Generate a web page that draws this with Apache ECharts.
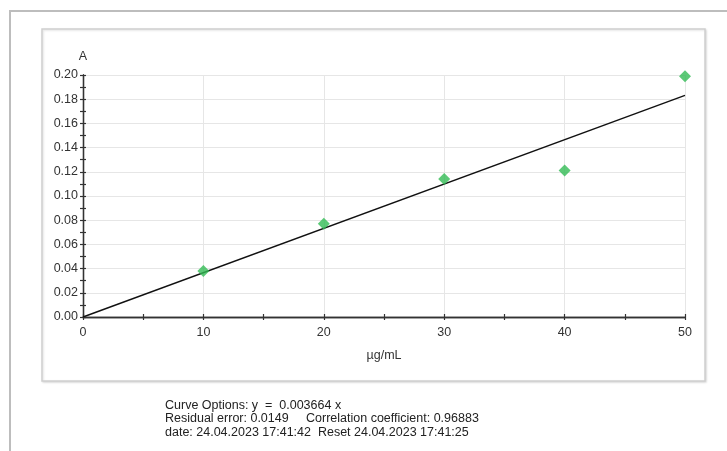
<!DOCTYPE html>
<html>
<head>
<meta charset="utf-8">
<script src="https://cdn.jsdelivr.net/npm/echarts@6/dist/echarts.min.js"></script>
<style>html,body{margin:0;padding:0;background:#fff;}#c{width:727px;height:451px;}</style>
</head>
<body>
<div id="c"></div>
<script>
// Data
var concX = [10, 20, 30, 40, 50];
var absY = [0.038, 0.077, 0.114, 0.121, 0.199];
var fitX = [0, 50];
var fitY = [0, 0.1832];
var xTicks = [0, 10, 20, 30, 40, 50];
var yTicks = [0.00, 0.02, 0.04, 0.06, 0.08, 0.10, 0.12, 0.14, 0.16, 0.18, 0.20];
var infoLines = [
  'Curve Options: y  =  0.003664 x',
  'Residual error: 0.0149     Correlation coefficient: 0.96883',
  'date: 24.04.2023 17:41:42  Reset 24.04.2023 17:41:25'
];

var font = 'Liberation Sans, Arial, sans-serif';
var fs = 12.5;
var chart = echarts.init(document.getElementById('c'), null, {renderer: 'canvas'});

function xAxisDef(primary) {
  return {
    type: 'value', min: xTicks[0], max: xTicks[xTicks.length - 1], interval: 10,
    position: 'bottom',
    name: primary ? 'µg/mL' : '', nameLocation: 'middle', nameGap: 32,
    nameTextStyle: {color: '#333', fontFamily: font, fontSize: fs},
    axisLine: {show: true, onZero: false, lineStyle: {color: '#333', width: 1.3}},
    axisTick: {show: true, inside: !primary, length: 3, lineStyle: {color: '#333', width: 1.2}},
    minorTick: {show: true, splitNumber: 2, length: 3, lineStyle: {color: '#333', width: 1.2}},
    axisLabel: {show: primary, color: '#333', fontFamily: font, fontSize: fs, margin: 9},
    splitLine: {show: primary, lineStyle: {color: '#e6e6e6', width: 1}},
    minorSplitLine: {show: false}
  };
}
function yAxisDef(primary) {
  return {
    type: 'value', min: yTicks[0], max: yTicks[yTicks.length - 1], interval: 0.02,
    position: 'left',
    name: primary ? 'A' : '', nameLocation: 'end', nameGap: 12,
    nameTextStyle: {color: '#333', fontFamily: font, fontSize: fs, align: 'center'},
    axisLine: {show: true, onZero: false, lineStyle: {color: '#333', width: 1.3}},
    axisTick: {show: true, inside: !primary, length: 3, lineStyle: {color: '#333', width: 1.2}},
    minorTick: {show: true, splitNumber: 2, length: 3, lineStyle: {color: '#333', width: 1.2}},
    axisLabel: {show: primary, color: '#333', fontFamily: font, fontSize: fs, margin: 5,
      formatter: function (v) { return v.toFixed(2); }},
    splitLine: {show: primary, lineStyle: {color: '#e6e6e6', width: 1}},
    minorSplitLine: {show: false}
  };
}

var graphics = [
  {type: 'rect', shape: {x: 10, y: 11, width: 800, height: 500}, style: {fill: 'none', stroke: '#bdbdbd', lineWidth: 2}, z: -10},
  {type: 'rect', shape: {x: 42, y: 29, width: 663, height: 352}, style: {fill: '#fff', stroke: '#cfcfcf', lineWidth: 1.5, shadowColor: 'rgba(0,0,0,0.12)', shadowBlur: 2, shadowOffsetX: 1, shadowOffsetY: 1}, z: -9}
];
infoLines.forEach(function (t, i) {
  graphics.push({type: 'text', left: 165, top: 399 + i * 13.5,
    style: {text: t, fill: '#222', font: fs + 'px ' + font}});
});

chart.setOption({
  animation: false,
  backgroundColor: '#fff',
  grid: {left: 83, right: 42, top: 75, bottom: 134, containLabel: false},
  xAxis: [xAxisDef(true), xAxisDef(false)],
  yAxis: [yAxisDef(true), yAxisDef(false)],
  graphic: graphics,
  series: [
    {type: 'line', xAxisIndex: 0, yAxisIndex: 0, showSymbol: false, symbol: 'none',
      data: fitX.map(function (x, i) { return [x, fitY[i]]; }),
      lineStyle: {color: '#111', width: 1.4}, z: 2},
    {type: 'scatter', xAxisIndex: 0, yAxisIndex: 0, symbol: 'diamond', symbolSize: 12,
      data: concX.map(function (x, i) { return [x, absY[i]]; }),
      itemStyle: {color: '#33bb55'}, z: 3}
  ]
});
</script>
</body>
</html>
